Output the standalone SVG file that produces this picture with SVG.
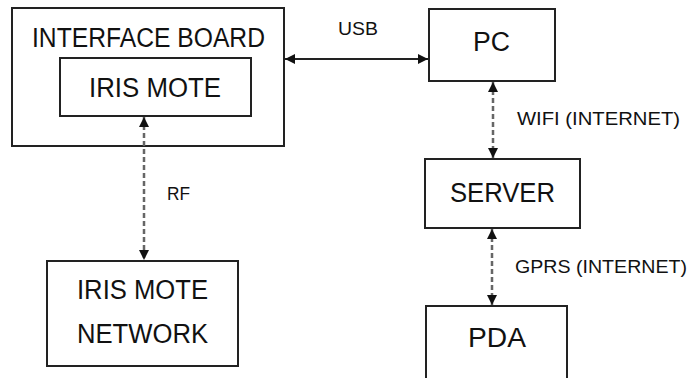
<svg xmlns="http://www.w3.org/2000/svg" width="694" height="378" viewBox="0 0 694 378">
<style>
.box{fill:#fff;stroke:#222;stroke-width:2}
.big{font-family:"Liberation Sans",Arial,sans-serif;font-size:27px;fill:#111}
.sm{font-family:"Liberation Sans",Arial,sans-serif;font-size:19px;fill:#111}
.solid{stroke:#222;stroke-width:2;fill:none}
.dash{stroke:#666;stroke-width:2.5;stroke-dasharray:5 3;fill:none}
</style>
<defs>
<marker id="ah" viewBox="0 0 10 10" refX="10" refY="5" markerWidth="10" markerHeight="10" markerUnits="userSpaceOnUse" orient="auto-start-reverse">
<path d="M0,0 L10,5 L0,10 z" fill="#111"/>
</marker>
</defs>
<rect width="694" height="378" fill="#fff"/>
<g id="interface-board">
<rect class="box" x="12" y="8" width="272" height="138"/>
<text class="big" x="32" y="46.5" textLength="233" lengthAdjust="spacingAndGlyphs">INTERFACE BOARD</text>
</g>
<g id="iris-mote">
<rect class="box" x="60" y="58" width="191" height="58"/>
<text class="big" x="89" y="97" textLength="132" lengthAdjust="spacingAndGlyphs">IRIS MOTE</text>
</g>
<g id="pc">
<rect class="box" x="429" y="9" width="126" height="72"/>
<text class="big" x="473" y="51" textLength="37" lengthAdjust="spacingAndGlyphs">PC</text>
</g>
<g id="server">
<rect class="box" x="425" y="159" width="155" height="69"/>
<text class="big" x="450" y="202" textLength="105" lengthAdjust="spacingAndGlyphs">SERVER</text>
</g>
<g id="pda">
<rect class="box" x="426" y="306" width="141" height="90"/>
<text class="big" x="468" y="347" textLength="58" lengthAdjust="spacingAndGlyphs">PDA</text>
</g>
<g id="iris-mote-network">
<rect class="box" x="47" y="261" width="191" height="105"/>
<text class="big" x="77" y="299" textLength="131" lengthAdjust="spacingAndGlyphs">IRIS MOTE</text>
<text class="big" x="77" y="343" textLength="131" lengthAdjust="spacingAndGlyphs">NETWORK</text>
</g>
<g id="connectors">
<line class="solid" x1="285" y1="59" x2="428" y2="59" marker-start="url(#ah)" marker-end="url(#ah)"/>
<line class="dash" x1="493" y1="82" x2="493" y2="158" marker-start="url(#ah)" marker-end="url(#ah)"/>
<line class="dash" x1="492" y1="229" x2="492" y2="305" marker-start="url(#ah)" marker-end="url(#ah)"/>
<line class="dash" x1="144" y1="117" x2="144" y2="260" marker-start="url(#ah)" marker-end="url(#ah)"/>
<text class="sm" x="338" y="35" textLength="40" lengthAdjust="spacingAndGlyphs">USB</text>
<text class="sm" x="517" y="125" textLength="163" lengthAdjust="spacingAndGlyphs">WIFI (INTERNET)</text>
<text class="sm" x="515" y="273" textLength="172" lengthAdjust="spacingAndGlyphs">GPRS (INTERNET)</text>
<text class="sm" x="167" y="200" textLength="23" lengthAdjust="spacingAndGlyphs">RF</text>
</g>
</svg>
